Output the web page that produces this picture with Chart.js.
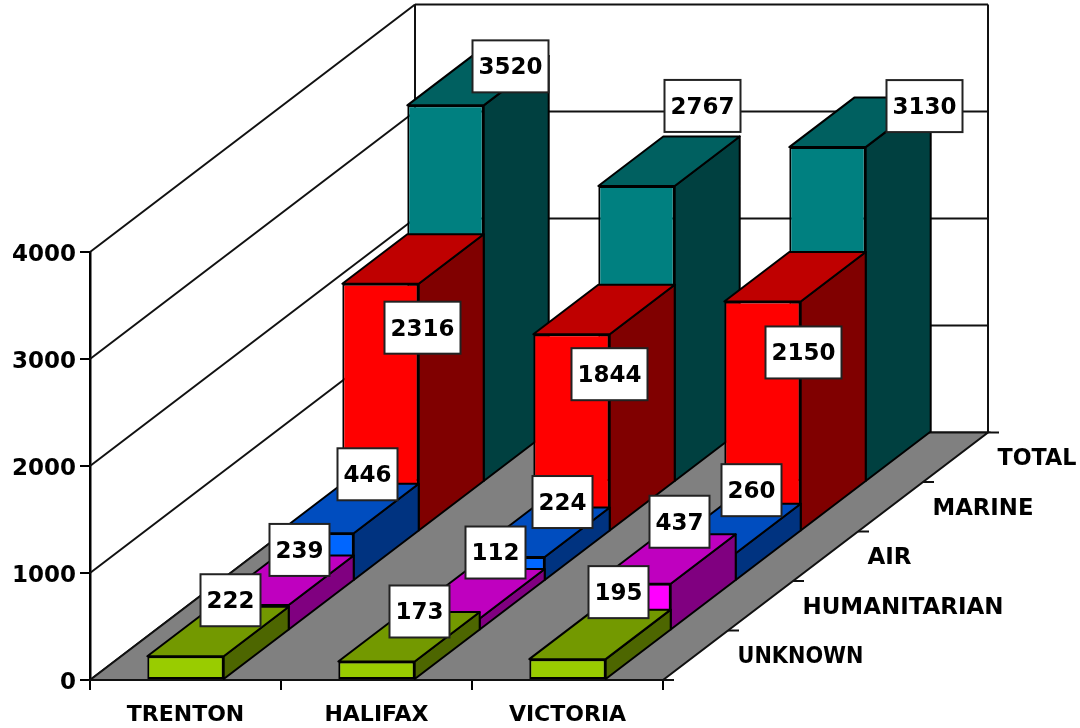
<!DOCTYPE html>
<html>
<head>
<meta charset="utf-8">
<title>Cases by base</title>
<script src="https://cdn.jsdelivr.net/npm/chart.js@4/dist/chart.umd.js"></script>
<style>
  html, body { margin: 0; padding: 0; background: #fff; }
  canvas { display: block; }
</style>
</head>
<body>
<canvas id="mycanvas" width="1080" height="728"></canvas>
<script>
var bases = ['TRENTON', 'HALIFAX', 'VICTORIA'];
var yTicks = [0, 1000, 2000, 3000, 4000];

var unknown = [222, 173, 195];
var humanitarian = [239, 112, 437];
var air = [446, 224, 260];
var marine = [2316, 1844, 2150];
var total = [3520, 2767, 3130];

var seriesNames = ['UNKNOWN', 'HUMANITARIAN', 'AIR', 'MARINE', 'TOTAL'];
var seriesValues = [unknown, humanitarian, air, marine, total];

// face colours per series
var frontColors = ['#99cc00', '#ff00ff', '#0066ff', '#ff0000', '#008080'];
var topColors = ['#739900', '#bf00bf', '#004dbf', '#bf0000', '#006060'];
var sideColors = ['#4d6600', '#800080', '#003380', '#800000', '#004040'];

// where each value box sits, relative to the top of its bar (dx, dy per base)
var boxShift = [
  [[45, -56], [43, -50], [51, -67]],
  [[49, -55], [54, -66], [47, -62]],
  [[52, -59], [56, -55], [54, -63]],
  [[42, 44], [38, 40], [41, 51]],
  [[65, -39], [66, -80], [97, -41]]
];

// widest each depth name may run
var nameMaxWidth = [126, 201, 48, 101, 79];

// one depth slot of the floor
var stepX = 65;
var stepY = 49.5;
var FONT = 'bold 23px "DejaVu Sans", Verdana, sans-serif';

var datasets = [];
for (var s = 0; s < seriesNames.length; s++) {
  datasets.push({
    label: seriesNames[s],
    data: seriesValues[s],
    backgroundColor: frontColors[s],
    borderColor: '#000',
    borderWidth: 2,
    borderSkipped: false,
    grouped: false,
    barPercentage: 0.4,
    categoryPercentage: 1,
    clip: false
  });
}

function line(ctx, x1, y1, x2, y2) {
  ctx.beginPath();
  ctx.moveTo(x1, y1);
  ctx.lineTo(x2, y2);
  ctx.stroke();
}

function poly(ctx, pts, fill) {
  ctx.beginPath();
  ctx.moveTo(pts[0][0], pts[0][1]);
  for (var i = 1; i < pts.length; i++) ctx.lineTo(pts[i][0], pts[i][1]);
  ctx.closePath();
  ctx.fillStyle = fill;
  ctx.fill();
  ctx.stroke();
}

var depth3d = {
  id: 'depth3d',

  // push every bar back into its depth slot
  afterDatasetUpdate: function (chart, args) {
    var s = args.index;
    args.meta.data.forEach(function (bar) {
      bar.x += s * stepX;
      bar.y -= s * stepY;
      bar.base -= s * stepY;
    });
  },

  // walls, grid and floor
  beforeDatasetsDraw: function (chart) {
    var ctx = chart.ctx;
    var a = chart.chartArea;
    var y = chart.scales.y;
    var n = seriesNames.length;
    var dx = n * stepX;
    var dy = n * stepY;

    ctx.save();
    ctx.strokeStyle = '#111';
    ctx.lineWidth = 2;
    yTicks.forEach(function (t) {
      var py = y.getPixelForValue(t);
      line(ctx, a.left, py, a.left + dx, py - dy);
      line(ctx, a.left + dx, py - dy, a.right + dx, py - dy);
    });
    line(ctx, a.left + dx, a.top - dy, a.left + dx, a.bottom - dy);
    line(ctx, a.right + dx, a.top - dy, a.right + dx, a.bottom - dy);

    poly(ctx, [
      [a.left, a.bottom],
      [a.right, a.bottom],
      [a.right + dx, a.bottom - dy],
      [a.left + dx, a.bottom - dy]
    ], '#808080');

    // depth axis ticks and names
    for (var k = 0; k <= n; k++) {
      var ex = a.right + k * stepX;
      var ey = a.bottom - k * stepY;
      line(ctx, ex, ey, ex + 11, ey);
    }
    ctx.fillStyle = '#000';
    ctx.font = FONT;
    ctx.textAlign = 'left';
    ctx.textBaseline = 'middle';
    seriesNames.forEach(function (name, i) {
      ctx.fillText(name, a.right + (i + 0.5) * stepX + 42, a.bottom - (i + 0.5) * stepY + 2, nameMaxWidth[i]);
    });
    ctx.restore();
  },

  // side and top faces go in behind the front of each bar
  beforeDatasetDraw: function (chart, args) {
    var ctx = chart.ctx;
    var s = args.index;
    ctx.save();
    ctx.strokeStyle = '#000';
    ctx.lineWidth = 2;
    ctx.lineJoin = 'round';
    args.meta.data.forEach(function (bar) {
      var l = bar.x - bar.width / 2;
      var r = bar.x + bar.width / 2;
      poly(ctx, [[r, bar.base], [r, bar.y], [r + stepX, bar.y - stepY], [r + stepX, bar.base - stepY]], sideColors[s]);
      poly(ctx, [[l, bar.y], [r, bar.y], [r + stepX, bar.y - stepY], [l + stepX, bar.y - stepY]], topColors[s]);
    });
    ctx.restore();
  },

  // value boxes stay above every bar
  afterDatasetsDraw: function (chart) {
    var ctx = chart.ctx;
    ctx.save();
    ctx.font = FONT;
    ctx.textAlign = 'center';
    ctx.textBaseline = 'middle';
    chart.getSortedVisibleDatasetMetas().forEach(function (meta) {
      var s = meta.index;
      meta.data.forEach(function (bar, i) {
        var text = String(seriesValues[s][i]);
        var w = text.length > 3 ? 76 : 60;
        var cx = bar.x + boxShift[s][i][0];
        var cy = bar.y + boxShift[s][i][1];
        ctx.fillStyle = '#fff';
        ctx.strokeStyle = '#222';
        ctx.lineWidth = 2;
        ctx.fillRect(cx - w / 2, cy - 26, w, 52);
        ctx.strokeRect(cx - w / 2, cy - 26, w, 52);
        ctx.fillStyle = '#000';
        ctx.fillText(text, cx, cy + 2);
      });
    });
    ctx.restore();
  }
};

var fontFamily = '"DejaVu Sans", Verdana, sans-serif';

new Chart(document.getElementById('mycanvas'), {
  type: 'bar',
  data: { labels: bases, datasets: datasets },
  plugins: [depth3d],
  options: {
    responsive: false,
    animation: false,
    events: [],
    layout: { padding: { top: 252, left: 0, right: 417, bottom: 0 } },
    plugins: { legend: { display: false }, tooltip: { enabled: false } },
    scales: {
      x: {
        type: 'category',
        offset: true,
        afterFit: function (scale) { scale.height = 48; },
        border: { color: '#000', width: 2 },
        grid: { offset: true, drawOnChartArea: false, color: '#000', lineWidth: 2, tickLength: 10 },
        ticks: { color: '#000', font: { family: fontFamily, size: 22, weight: 'bold' }, padding: 12, maxRotation: 0, autoSkip: false }
      },
      y: {
        min: 0,
        max: 4000,
        afterFit: function (scale) { scale.width = 90; },
        afterBuildTicks: function (scale) {
          scale.ticks = yTicks.map(function (v) { return { value: v }; });
        },
        border: { color: '#000', width: 2.5 },
        grid: { drawOnChartArea: false, color: '#000', lineWidth: 2, tickLength: 10 },
        ticks: {
          color: '#000',
          font: { family: fontFamily, size: 23, weight: 'bold' },
          padding: 4,
          labelOffset: 3,
          callback: function (v) { return String(v); }
        }
      }
    }
  }
});
</script>
</body>
</html>
